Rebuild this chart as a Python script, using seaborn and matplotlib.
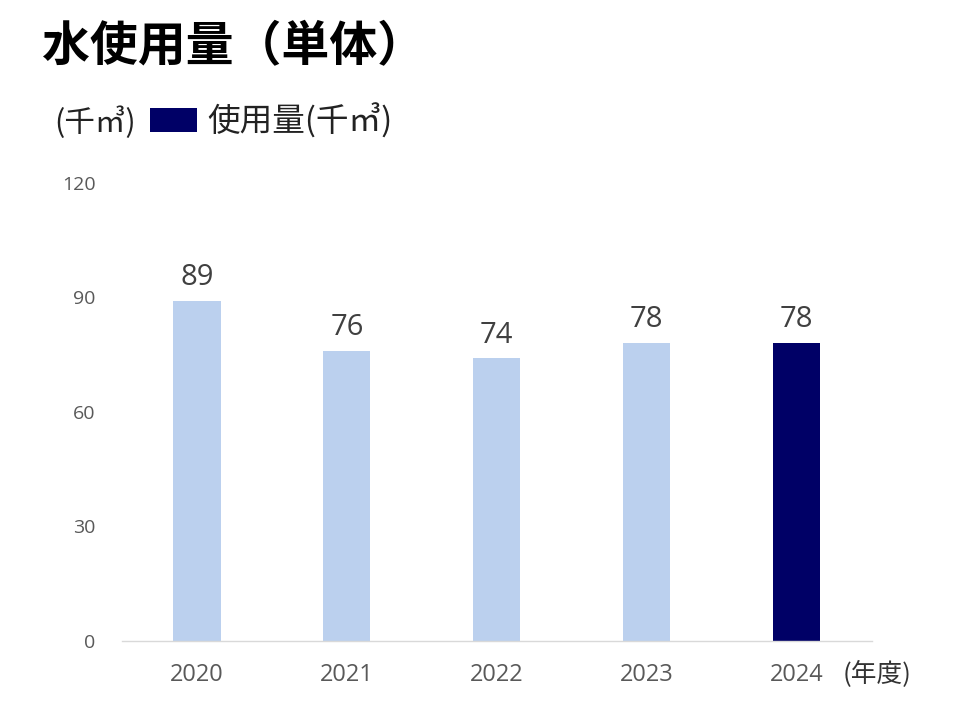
import matplotlib
matplotlib.use("Agg")
import matplotlib.pyplot as plt
import seaborn as sns
import pandas as pd
from matplotlib.patches import Patch

# data
years = ["2020", "2021", "2022", "2023", "2024"]
usage = [89, 76, 74, 78, 78]
bar_colors = ["#BBD0EE", "#BBD0EE", "#BBD0EE", "#BBD0EE", "#000066"]

sns.set_theme(style="white")
plt.rcParams["font.family"] = ["Noto Sans CJK JP", "DejaVu Sans"]
num_font = ["Open Sans", "Noto Sans CJK JP"]

df = pd.DataFrame({"year": years, "usage": usage})

fig = plt.figure(figsize=(9.6, 7.2), dpi=100)
ax = fig.add_axes([0.127, 0.1097, 0.781, 0.6363])

sns.barplot(data=df, x="year", y="usage", hue="year", palette=bar_colors,
            width=0.315, legend=False, saturation=1, linewidth=0, ax=ax)

for i, v in enumerate(usage):
    ax.text(i, v + 2.3, f"{v}", ha="center", va="bottom", fontsize=21,
            color="#404040", family=num_font)

ax.set_ylim(0, 120)
ax.set_xlim(-0.5, 4.5)
ax.set_yticks([0, 30, 60, 90, 120])
ax.tick_params(axis="both", length=0, labelcolor="#595959")
ax.tick_params(axis="x", pad=16, labelsize=17)
ax.tick_params(axis="y", pad=19, labelsize=14)
for lab in ax.get_xticklabels() + ax.get_yticklabels():
    lab.set_family(num_font)
ax.set_xlabel("")
ax.set_ylabel("")
for s in ["top", "right", "left"]:
    ax.spines[s].set_visible(False)
ax.spines["bottom"].set_color("#D9D9D9")
ax.spines["bottom"].set_linewidth(1)

# title and annotations
fig.text(0.044, 0.935, "水使用量（単体）", fontsize=34.5, fontweight="bold",
         color="black", va="center", ha="left")
fig.text(0.057, 0.830, "(千㎥)", fontsize=22, color="#222222", va="center", ha="left")
fig.text(0.878, 0.065, "(年度)", fontsize=18.5, color="#333333", va="center", ha="left")

leg = fig.legend(handles=[Patch(facecolor="#000066", edgecolor="none", label="使用量(千㎥)")],
                 loc="center left", bbox_to_anchor=(0.156, 0.832), frameon=False,
                 fontsize=23.5, handlelength=1.45, handleheight=0.75, handletextpad=0.3,
                 borderaxespad=0, borderpad=0)
for t in leg.get_texts():
    t.set_color("#222222")

fig.savefig("out.png", dpi=100)
